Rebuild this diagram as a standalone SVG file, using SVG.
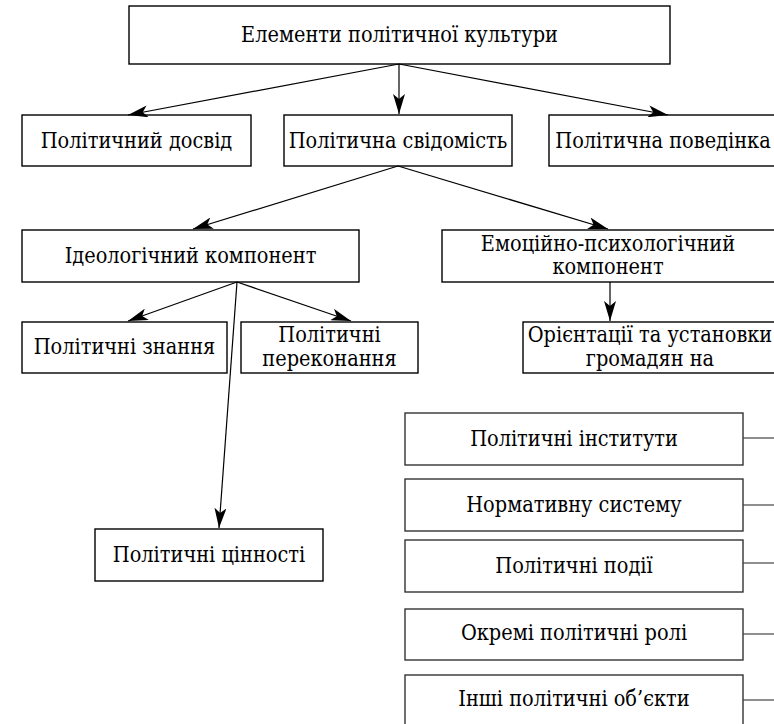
<svg xmlns="http://www.w3.org/2000/svg" width="774" height="724" viewBox="0 0 774 724">
<defs>
<marker id="arr" viewBox="0 0 20 12" refX="20" refY="6" markerWidth="20" markerHeight="12" markerUnits="userSpaceOnUse" orient="auto">
<path d="M0,0 L20,6 L0,12 L5,6 z" fill="#000"/>
</marker>
<style>
rect{fill:#fff;stroke:#000;stroke-width:1.4}
.g rect{stroke:#333}
text{font-family:"DejaVu Serif Condensed","DejaVu Serif",serif;font-stretch:condensed;font-size:21.5px;fill:#000;text-anchor:middle}
.c line{stroke:#000;stroke-width:1.2;marker-end:url(#arr)}
.c line.p{stroke:#444;marker-end:none}
</style>
</defs>
<rect x="0" y="0" width="774" height="724" style="fill:#fff;stroke:none"/>
<g id="n-top"><rect x="129" y="6" width="541" height="58"/><text x="399.5" y="42">Елементи політичної культури</text></g>
<g id="n-dosvid"><rect x="22" y="115" width="229" height="51"/><text x="136.5" y="148">Політичний досвід</text></g>
<g id="n-svid"><rect x="284" y="115" width="228" height="51"/><text x="398" y="148">Політична свідомість</text></g>
<g id="n-poved"><rect x="549" y="115" width="232" height="51"/><text x="663" y="148">Політична поведінка</text></g>
<g id="n-ideol"><rect x="22" y="230" width="337" height="52"/><text x="190.5" y="263">Ідеологічний компонент</text></g>
<g id="n-emoc"><rect x="442" y="230" width="340" height="52"/><text x="608" y="251">Емоційно-психологічний</text><text x="608" y="274">компонент</text></g>
<g id="n-znan"><rect x="22" y="322" width="205" height="51"/><text x="124.5" y="354">Політичні знання</text></g>
<g id="n-perek"><rect x="241" y="322" width="177" height="51"/><text x="329.5" y="342">Політичні</text><text x="329.5" y="366">переконання</text></g>
<g id="n-orient"><rect x="523" y="322" width="260" height="51"/><text x="650" y="342">Орієнтації та установки</text><text x="650" y="366">громадян на</text></g>
<g id="n-cinn"><rect x="95" y="529" width="228" height="52"/><text x="209" y="562">Політичні цінності</text></g>
<g class="g">
<g id="n-inst"><rect x="405" y="413" width="338" height="52"/><text x="574" y="446">Політичні інститути</text></g>
<g id="n-norm"><rect x="405" y="479" width="338" height="52"/><text x="574" y="512">Нормативну систему</text></g>
<g id="n-podii"><rect x="405" y="540" width="338" height="52"/><text x="574" y="573">Політичні події</text></g>
<g id="n-roli"><rect x="405" y="609" width="338" height="51"/><text x="574" y="640">Окремі політичні ролі</text></g>
<g id="n-inshi"><rect x="405" y="675" width="338" height="56"/><text x="574" y="706">Інші політичні об’єкти</text></g>
</g>
<g id="connectors" class="c">
<line x1="399" y1="64" x2="128" y2="115"/>
<line x1="399" y1="64" x2="399" y2="114"/>
<line x1="399" y1="64" x2="668" y2="115"/>
<line x1="398" y1="166" x2="193" y2="229"/>
<line x1="398" y1="166" x2="608" y2="229"/>
<line x1="237" y1="282" x2="128" y2="321"/>
<line x1="237" y1="282" x2="351" y2="321"/>
<line x1="237" y1="282" x2="219" y2="528"/>
<line x1="610" y1="282" x2="610" y2="321"/>
<line class="p" x1="743" y1="438" x2="774" y2="438"/>
<line class="p" x1="743" y1="505" x2="774" y2="505"/>
<line class="p" x1="743" y1="563" x2="774" y2="563"/>
<line class="p" x1="743" y1="634" x2="774" y2="634"/>
<line class="p" x1="743" y1="700" x2="774" y2="700"/>
</g>
</svg>
